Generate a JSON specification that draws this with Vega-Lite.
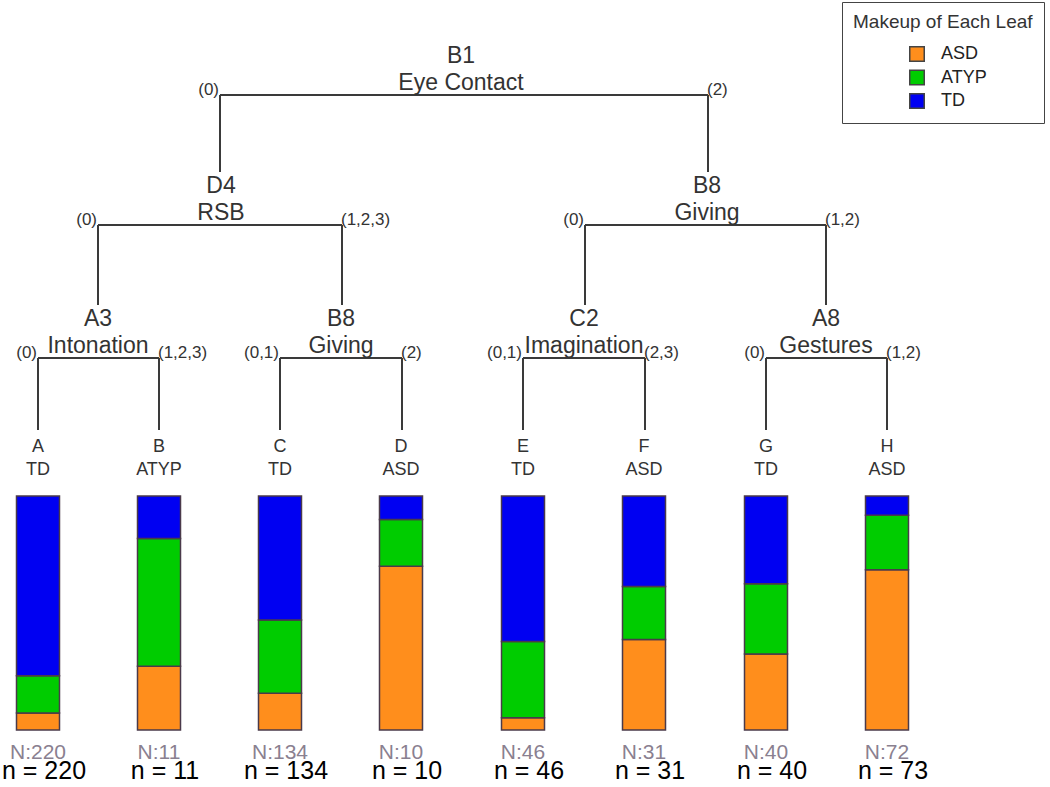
{
  "$schema": "https://vega.github.io/schema/vega-lite/v6.json",
  "width": 1050,
  "height": 787,
  "autosize": {"type": "none"},
  "padding": 0,
  "background": "white",
  "config": {"view": {"stroke": null}, "font": "Liberation Sans", "scale": {"continuousPadding": 0}},
  "datasets": {
    "segments": [
      {"x": 220, "x2": 708, "y": 95, "y2": 95},
      {"x": 220, "x2": 220, "y": 95, "y2": 172},
      {"x": 708, "x2": 708, "y": 95, "y2": 172},
      {"x": 98, "x2": 342, "y": 225, "y2": 225},
      {"x": 98, "x2": 98, "y": 225, "y2": 305},
      {"x": 342, "x2": 342, "y": 225, "y2": 305},
      {"x": 585, "x2": 826, "y": 225, "y2": 225},
      {"x": 585, "x2": 585, "y": 225, "y2": 305},
      {"x": 826, "x2": 826, "y": 225, "y2": 305},
      {"x": 38, "x2": 159, "y": 358, "y2": 358},
      {"x": 38, "x2": 38, "y": 358, "y2": 430},
      {"x": 159, "x2": 159, "y": 358, "y2": 430},
      {"x": 280, "x2": 402, "y": 358, "y2": 358},
      {"x": 280, "x2": 280, "y": 358, "y2": 430},
      {"x": 402, "x2": 402, "y": 358, "y2": 430},
      {"x": 523, "x2": 645, "y": 358, "y2": 358},
      {"x": 523, "x2": 523, "y": 358, "y2": 430},
      {"x": 645, "x2": 645, "y": 358, "y2": 430},
      {"x": 766, "x2": 887, "y": 358, "y2": 358},
      {"x": 766, "x2": 766, "y": 358, "y2": 430},
      {"x": 887, "x2": 887, "y": 358, "y2": 430}
    ],
    "nodes": [
      {"id": "B1", "name": "Eye Contact", "x": 461, "y": 95},
      {"id": "D4", "name": "RSB", "x": 221, "y": 225},
      {"id": "B8", "name": "Giving", "x": 707, "y": 225},
      {"id": "A3", "name": "Intonation", "x": 98, "y": 358},
      {"id": "B8", "name": "Giving", "x": 341, "y": 358},
      {"id": "C2", "name": "Imagination", "x": 584, "y": 358},
      {"id": "A8", "name": "Gestures", "x": 826, "y": 358}
    ],
    "branches": [
      {"label": "(0)", "x": 220, "y": 95, "side": "L"},
      {"label": "(2)", "x": 708, "y": 95, "side": "R"},
      {"label": "(0)", "x": 98, "y": 225, "side": "L"},
      {"label": "(1,2,3)", "x": 342, "y": 225, "side": "R"},
      {"label": "(0)", "x": 585, "y": 225, "side": "L"},
      {"label": "(1,2)", "x": 826, "y": 225, "side": "R"},
      {"label": "(0)", "x": 38, "y": 358, "side": "L"},
      {"label": "(1,2,3)", "x": 159, "y": 358, "side": "R"},
      {"label": "(0,1)", "x": 280, "y": 358, "side": "L"},
      {"label": "(2)", "x": 402, "y": 358, "side": "R"},
      {"label": "(0,1)", "x": 523, "y": 358, "side": "L"},
      {"label": "(2,3)", "x": 645, "y": 358, "side": "R"},
      {"label": "(0)", "x": 766, "y": 358, "side": "L"},
      {"label": "(1,2)", "x": 887, "y": 358, "side": "R"}
    ],
    "leaves": [
      {"leaf": "A", "cls": "TD", "x": 38, "N": "N:220", "n": "n = 220"},
      {"leaf": "B", "cls": "ATYP", "x": 159, "N": "N:11", "n": "n = 11"},
      {"leaf": "C", "cls": "TD", "x": 280, "N": "N:134", "n": "n = 134"},
      {"leaf": "D", "cls": "ASD", "x": 401, "N": "N:10", "n": "n = 10"},
      {"leaf": "E", "cls": "TD", "x": 523, "N": "N:46", "n": "n = 46"},
      {"leaf": "F", "cls": "ASD", "x": 644, "N": "N:31", "n": "n = 31"},
      {"leaf": "G", "cls": "TD", "x": 766, "N": "N:40", "n": "n = 40"},
      {"leaf": "H", "cls": "ASD", "x": 887, "N": "N:72", "n": "n = 73"}
    ],
    "bars": [
      {"leaf": "A", "x": 38, "group": "ASD", "count": 16},
      {"leaf": "A", "x": 38, "group": "ATYP", "count": 35},
      {"leaf": "A", "x": 38, "group": "TD", "count": 169},
      {"leaf": "B", "x": 159, "group": "ASD", "count": 3},
      {"leaf": "B", "x": 159, "group": "ATYP", "count": 6},
      {"leaf": "B", "x": 159, "group": "TD", "count": 2},
      {"leaf": "C", "x": 280, "group": "ASD", "count": 21},
      {"leaf": "C", "x": 280, "group": "ATYP", "count": 42},
      {"leaf": "C", "x": 280, "group": "TD", "count": 71},
      {"leaf": "D", "x": 401, "group": "ASD", "count": 7},
      {"leaf": "D", "x": 401, "group": "ATYP", "count": 2},
      {"leaf": "D", "x": 401, "group": "TD", "count": 1},
      {"leaf": "E", "x": 523, "group": "ASD", "count": 2.4},
      {"leaf": "E", "x": 523, "group": "ATYP", "count": 15},
      {"leaf": "E", "x": 523, "group": "TD", "count": 28.6},
      {"leaf": "F", "x": 644, "group": "ASD", "count": 12},
      {"leaf": "F", "x": 644, "group": "ATYP", "count": 7},
      {"leaf": "F", "x": 644, "group": "TD", "count": 12},
      {"leaf": "G", "x": 766, "group": "ASD", "count": 13},
      {"leaf": "G", "x": 766, "group": "ATYP", "count": 12},
      {"leaf": "G", "x": 766, "group": "TD", "count": 15},
      {"leaf": "H", "x": 887, "group": "ASD", "count": 50},
      {"leaf": "H", "x": 887, "group": "ATYP", "count": 17},
      {"leaf": "H", "x": 887, "group": "TD", "count": 6}
    ]
  },
  "resolve": {"scale": {"y": "independent"}},
  "layer": [
    {
      "data": {"name": "segments"},
      "mark": {"type": "rule", "color": "#3a3a3a", "strokeWidth": 2},
      "encoding": {
        "x": {"field": "x", "type": "quantitative", "scale": {"domain": [0, 1050], "nice": false, "zero": false, "padding": 0}, "axis": null},
        "x2": {"field": "x2"},
        "y": {"field": "y", "type": "quantitative", "scale": {"domain": [0, 787], "reverse": true, "nice": false, "zero": false}, "axis": null},
        "y2": {"field": "y2"}
      }
    },
    {
      "data": {"name": "nodes"},
      "mark": {"type": "text", "fontSize": 23, "color": "#333333", "baseline": "middle", "dy": -39},
      "encoding": {
        "x": {"field": "x", "type": "quantitative", "scale": {"domain": [0, 1050], "nice": false, "zero": false, "padding": 0}, "axis": null},
        "y": {"field": "y", "type": "quantitative", "scale": {"domain": [0, 787], "reverse": true, "nice": false, "zero": false}, "axis": null},
        "text": {"field": "id"}
      }
    },
    {
      "data": {"name": "nodes"},
      "mark": {"type": "text", "fontSize": 23, "color": "#333333", "baseline": "middle", "dy": -12},
      "encoding": {
        "x": {"field": "x", "type": "quantitative", "scale": {"domain": [0, 1050], "nice": false, "zero": false, "padding": 0}, "axis": null},
        "y": {"field": "y", "type": "quantitative", "scale": {"domain": [0, 787], "reverse": true, "nice": false, "zero": false}, "axis": null},
        "text": {"field": "name"}
      }
    },
    {
      "data": {"name": "branches"},
      "transform": [{"filter": "datum.side === 'L'"}],
      "mark": {"type": "text", "fontSize": 17, "color": "#333333", "align": "right", "baseline": "alphabetic", "dx": -1, "dy": 0},
      "encoding": {
        "x": {"field": "x", "type": "quantitative", "scale": {"domain": [0, 1050], "nice": false, "zero": false, "padding": 0}, "axis": null},
        "y": {"field": "y", "type": "quantitative", "scale": {"domain": [0, 787], "reverse": true, "nice": false, "zero": false}, "axis": null},
        "text": {"field": "label"}
      }
    },
    {
      "data": {"name": "branches"},
      "transform": [{"filter": "datum.side === 'R'"}],
      "mark": {"type": "text", "fontSize": 17, "color": "#333333", "align": "left", "baseline": "alphabetic", "dx": -1, "dy": 0},
      "encoding": {
        "x": {"field": "x", "type": "quantitative", "scale": {"domain": [0, 1050], "nice": false, "zero": false, "padding": 0}, "axis": null},
        "y": {"field": "y", "type": "quantitative", "scale": {"domain": [0, 787], "reverse": true, "nice": false, "zero": false}, "axis": null},
        "text": {"field": "label"}
      }
    },
    {
      "data": {"name": "leaves"},
      "mark": {"type": "text", "fontSize": 18, "color": "#333333", "baseline": "middle"},
      "encoding": {
        "x": {"field": "x", "type": "quantitative", "scale": {"domain": [0, 1050], "nice": false, "zero": false, "padding": 0}, "axis": null},
        "y": {"datum": 447, "type": "quantitative", "scale": {"domain": [0, 787], "reverse": true, "nice": false, "zero": false}, "axis": null},
        "text": {"field": "leaf"}
      }
    },
    {
      "data": {"name": "leaves"},
      "mark": {"type": "text", "fontSize": 18, "color": "#333333", "baseline": "middle"},
      "encoding": {
        "x": {"field": "x", "type": "quantitative", "scale": {"domain": [0, 1050], "nice": false, "zero": false, "padding": 0}, "axis": null},
        "y": {"datum": 470, "type": "quantitative", "scale": {"domain": [0, 787], "reverse": true, "nice": false, "zero": false}, "axis": null},
        "text": {"field": "cls"}
      }
    },
    {
      "data": {"name": "leaves"},
      "mark": {"type": "text", "fontSize": 21, "color": "#8a8090", "baseline": "middle"},
      "encoding": {
        "x": {"field": "x", "type": "quantitative", "scale": {"domain": [0, 1050], "nice": false, "zero": false, "padding": 0}, "axis": null},
        "y": {"datum": 753, "type": "quantitative", "scale": {"domain": [0, 787], "reverse": true, "nice": false, "zero": false}, "axis": null},
        "text": {"field": "N"}
      }
    },
    {
      "data": {"name": "leaves"},
      "mark": {"type": "text", "fontSize": 25, "color": "#000000", "baseline": "alphabetic", "dx": 6},
      "encoding": {
        "x": {"field": "x", "type": "quantitative", "scale": {"domain": [0, 1050], "nice": false, "zero": false, "padding": 0}, "axis": null},
        "y": {"datum": 779, "type": "quantitative", "scale": {"domain": [0, 787], "reverse": true, "nice": false, "zero": false}, "axis": null},
        "text": {"field": "n"}
      }
    },
    {
      "data": {"name": "bars"},
      "mark": {"type": "bar", "width": 43, "stroke": "#4a3a4a", "strokeWidth": 1.5},
      "encoding": {
        "x": {"field": "x", "type": "quantitative", "scale": {"domain": [0, 1050], "nice": false, "zero": false, "padding": 0}, "axis": null},
        "y": {"field": "count", "type": "quantitative", "stack": "normalize", "scale": {"domain": [0, 1], "range": [730, 496], "nice": false, "zero": false}, "axis": null},
        "color": {
          "field": "group",
          "type": "nominal",
          "scale": {"domain": ["ASD", "ATYP", "TD"], "range": ["#FF8E1C", "#00CC00", "#0000F2"]},
          "legend": {
            "title": "Makeup of Each Leaf",
            "orient": "none",
            "legendX": 842,
            "legendY": 2,
            "titleFontSize": 19,
            "titleFontWeight": "normal",
            "titleColor": "#333333",
            "titlePadding": 13,
            "labelFontSize": 18,
            "labelColor": "#222222",
            "labelOffset": 15,
            "symbolType": "square",
            "symbolSize": 210,
            "symbolStrokeColor": "#444444",
            "symbolStrokeWidth": 1.5,
            "symbolOffset": 55,
            "rowPadding": 1.5,
            "padding": 11,
            "strokeColor": "#444444"
          }
        },
        "order": {"field": "group", "type": "nominal"}
      }
    }
  ]
}
